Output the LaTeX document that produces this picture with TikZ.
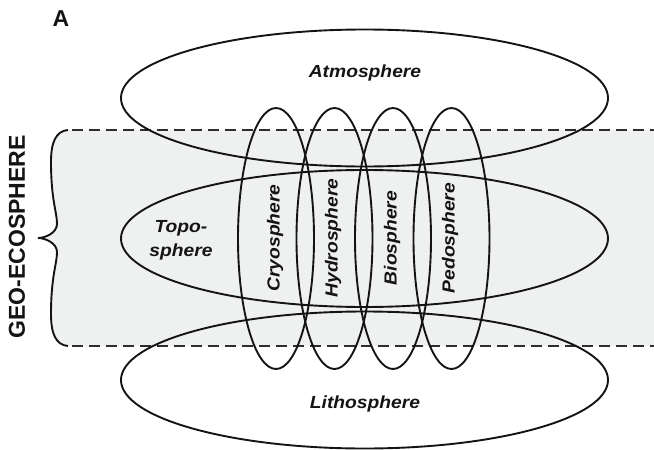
\documentclass[tikz,border=0pt]{standalone}
\usepackage{fontspec}
\usetikzlibrary{shapes.geometric}
\newfontfamily\labfont{Liberation Sans}[FakeStretch=1.1]
\newfontfamily\headfont{Liberation Sans}
\definecolor{bandgray}{RGB}{239,240,240}
\definecolor{inkline}{RGB}{20,20,20}
\definecolor{dashink}{RGB}{45,45,45}
\tikzset{
  sphere/.style={draw=inkline, line width=1.9pt, ellipse, inner sep=0pt},
  flat/.style={sphere, minimum width=487pt, minimum height=137pt},
  tall/.style={sphere, minimum width=76pt, minimum height=261pt},
  lab/.style={font=\labfont\fontsize{17.5}{24}\selectfont\bfseries\itshape, text=inkline, inner sep=0pt, align=center},
  vlab/.style={lab, rotate=90},
  bandline/.style={draw=dashink, line width=2pt, dash pattern=on 11pt off 6pt},
  bracestyle/.style={draw=inkline, line width=1.9pt}
}
\begin{document}
\begin{tikzpicture}[x=1pt,y=-1pt]
\useasboundingbox (0,0) rectangle (654,450);
% band
\coordinate (bt) at (68,130);
\coordinate (bb) at (68,346);
\coordinate (tip) at (38,238);
\fill[bandgray] (654,130) -- (bt) .. controls (56,131) and (51,142) .. (51,162)
  .. controls (51,200) and (57,212) .. (57,224) .. controls (57,233) and (45,238) .. (tip)
  .. controls (45,238) and (57,243) .. (57,252) .. controls (57,264) and (51,276) .. (51,314)
  .. controls (51,334) and (56,345) .. (bb) -- (654,346) -- cycle;
\draw[bracestyle] (bt) .. controls (56,131) and (51,142) .. (51,162)
  .. controls (51,200) and (57,212) .. (57,224) .. controls (57,233) and (45,238) .. (tip)
  .. controls (45,238) and (57,243) .. (57,252) .. controls (57,264) and (51,276) .. (51,314)
  .. controls (51,334) and (56,345) .. (bb);
\coordinate (tl) at (72,130);
\coordinate (tr) at (654,130);
\coordinate (bl) at (72,346);
\coordinate (br) at (654,346);
\draw[bandline] (tl) -- (tr);
\draw[bandline] (bl) -- (br);
% ellipses
\node[flat] (atmo) at (364.5,98) {};
\node[flat] (topo) at (364.5,238.5) {};
\node[flat] (litho) at (364.5,380) {};
\node[tall] (cryo) at (276,238.5) {};
\node[tall] (hydro) at (334.5,238.5) {};
\node[tall] (bio) at (393,238.5) {};
\node[tall] (pedo) at (451.5,238.5) {};
% labels
\node[font=\headfont\fontsize{23}{26}\selectfont\bfseries, text=inkline, inner sep=0pt] (A) at (61,18.5) {A};
\node[font=\headfont\fontsize{23}{26}\selectfont\bfseries, text=inkline, inner sep=0pt, rotate=90] (geo) at (17,237) {GEO-ECOSPHERE};
\node[lab] (atmot) at (365,73) {Atmosphere};
\node[lab] (topot) at (181,240) {Topo-\\sphere};
\node[lab] (lithot) at (365,404) {Lithosphere};
\node[vlab] (cryot) at (275,238) {Cryosphere};
\node[vlab] (hydrot) at (333,238) {Hydrosphere};
\node[vlab] (biot) at (392,238) {Biosphere};
\node[vlab] (pedot) at (450,238) {Pedosphere};
\end{tikzpicture}
\end{document}
